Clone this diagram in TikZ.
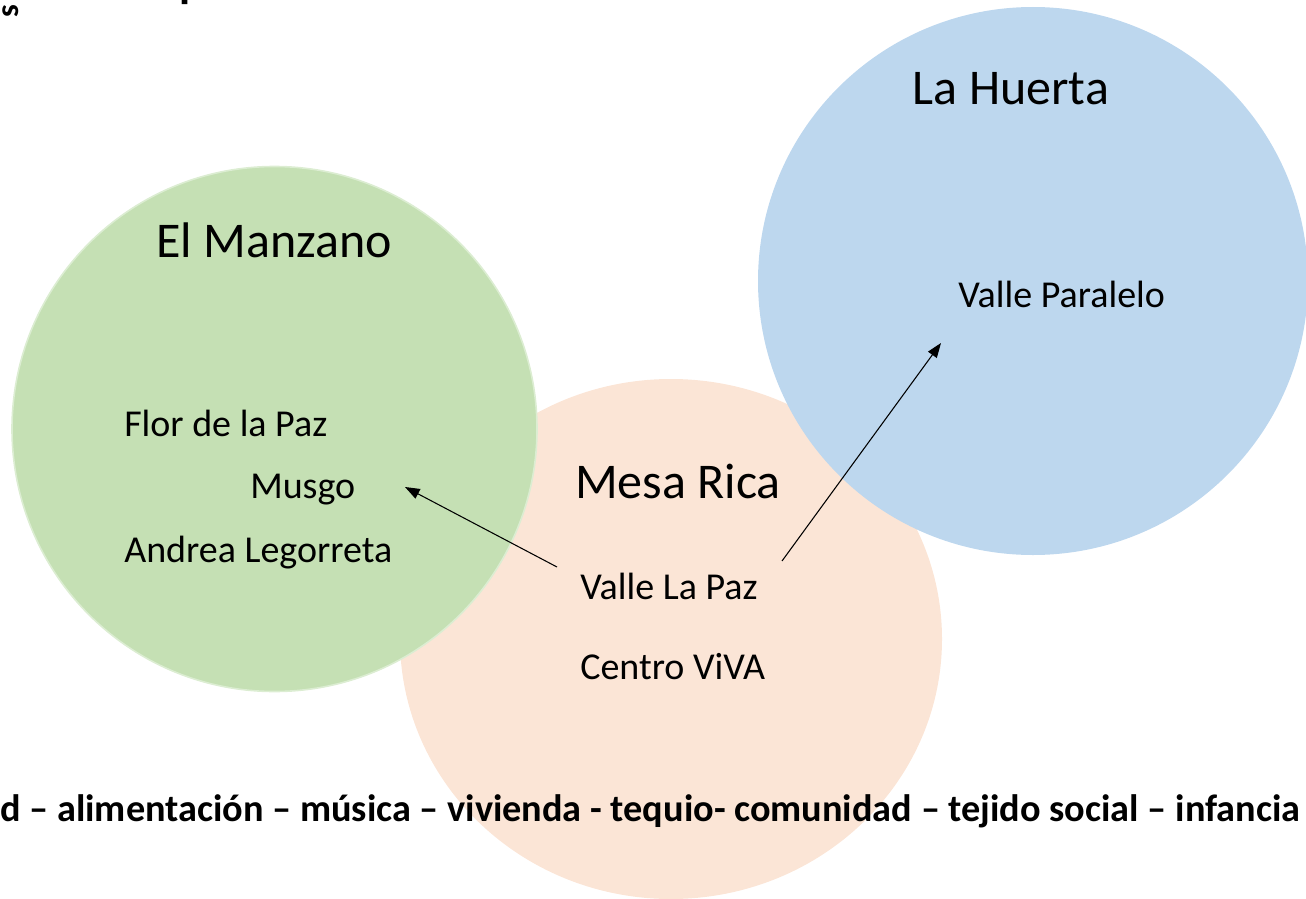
\documentclass[tikz,border=0pt]{standalone}
\usepackage{fontspec}
\setmainfont{Carlito}
\usetikzlibrary{arrows.meta}
\definecolor{cgreen}{HTML}{C5E0B4}
\definecolor{cgreenedge}{HTML}{DCEDD2}
\definecolor{cpeach}{HTML}{FBE5D6}
\definecolor{cblue}{HTML}{BDD7EE}
\tikzset{
  bigtitle/.style={anchor=base,inner sep=0pt,font=\fontsize{37.5pt}{40pt}\selectfont},
  member/.style={anchor=base west,inner sep=0pt,font=\fontsize{28.5pt}{30pt}\selectfont},
  link/.style={draw=black,line width=0.8pt,-{Triangle[length=11pt,width=8pt]}},
  keywords/.style={anchor=base west,inner sep=0pt,font=\fontsize{28.7pt}{30pt}\selectfont\bfseries}
}
\begin{document}
\begin{tikzpicture}[x=0.75pt,y=-0.75pt]
\useasboundingbox (0,0) rectangle (1306,899);
% circles
\fill[cpeach] (671,639) ellipse [x radius=271, y radius=260];
\filldraw[fill=cgreen,draw=cgreenedge,line width=1.2pt] (274.5,429) circle [radius=262.5];
\fill[cblue] (1033,281) ellipse [x radius=275, y radius=274];
% cropped fragments at top-left
\node[anchor=center,inner sep=0pt,rotate=90,font=\fontsize{24pt}{26pt}\selectfont\bfseries] (frags) at (11,11) {s};
\node[anchor=base west,inner sep=0pt,font=\fontsize{34pt}{36pt}\selectfont\bfseries] (fragp) at (179,-2) {p};
% titles
\node[bigtitle] (manzano) at (274,257) {El Manzano};
\node[bigtitle] (mesa) at (678,498) {Mesa Rica};
\node[bigtitle] (huerta) at (1011,104) {La Huerta};
% members
\node[member] (paralelo) at (958,307) {Valle Paralelo};
\node[member] (flor) at (124,436) {Flor de la Paz};
\node[member] (musgo) at (250,498) {Musgo};
\node[member] (andrea) at (124,562) {Andrea Legorreta};
\node[member] (vallepaz) at (580,599) {Valle La Paz};
\node[member] (viva) at (580,679) {Centro ViVA};
% arrows
\coordinate (s1) at (557,567);
\coordinate (t1) at (405,487);
\coordinate (s2) at (782,561);
\coordinate (t2) at (941,343);
\draw[link] (s1) -- (t1);
\draw[link] (s2) -- (t2);
% keywords line
\node[keywords] (kw) at (0,821) {d – alimentación – música – vivienda - tequio- comunidad – tejido social – infancia};
\end{tikzpicture}
\end{document}
